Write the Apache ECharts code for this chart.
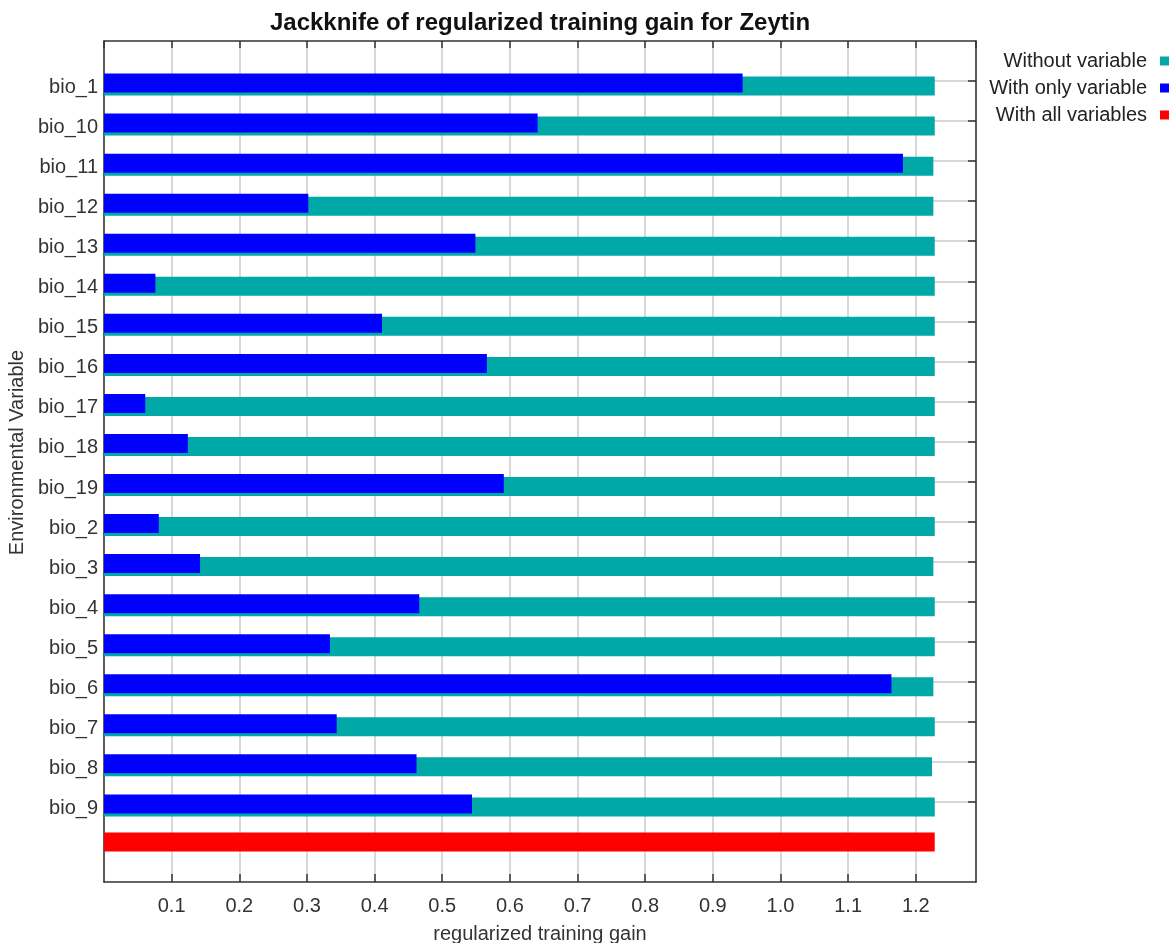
<!DOCTYPE html>
<html>
<head>
<meta charset="utf-8">
<script src="https://cdn.jsdelivr.net/npm/echarts@6/dist/echarts.min.js"></script>
<style>html,body{margin:0;padding:0;background:#fff}#c{width:1173px;height:943px}</style>
</head>
<body>
<div id="c"></div>
<script>
const variables = ['bio_1','bio_10','bio_11','bio_12','bio_13','bio_14','bio_15','bio_16','bio_17','bio_18','bio_19','bio_2','bio_3','bio_4','bio_5','bio_6','bio_7','bio_8','bio_9'];
const withoutVariable = [1.228,1.228,1.226,1.226,1.228,1.228,1.228,1.228,1.228,1.228,1.228,1.228,1.226,1.228,1.228,1.226,1.228,1.224,1.228];
const withOnlyVariable = [0.944,0.641,1.181,0.302,0.549,0.076,0.411,0.566,0.061,0.124,0.591,0.081,0.142,0.466,0.334,1.164,0.344,0.462,0.544];
const withAllVariables = 1.228;
const xTicks = [0.1,0.2,0.3,0.4,0.5,0.6,0.7,0.8,0.9,1.0,1.1,1.2];

const TOP='__top', ALL='__all', BOT='__bottom';
const cats = [TOP].concat(variables, [ALL, BOT]);
const isVar = (v) => variables.indexOf(v) >= 0;
const tealData = [null].concat(withoutVariable, [null, null]);
const blueData = [null].concat(withOnlyVariable, [null, null]);
const redData = cats.map(c => c === ALL ? withAllVariables : null);

const FONT = 'Liberation Sans';
const frame = () => ({show:true, onZero:false, lineStyle:{color:'#333', width:1.5}});
const X_MAX = 1.289;

const chart = echarts.init(document.getElementById('c'), null, {renderer:'canvas'});
chart.setOption({
  backgroundColor:'#fff',
  animation:false,
  title:{text:'Jackknife of regularized training gain for Zeytin', left:540, top:11, textAlign:'center', padding:0,
    textStyle:{fontFamily:FONT, fontSize:24, fontWeight:'bold', color:'#111'}},
  legend:[
    {data:['Without variable'], right:4, top:51},
    {data:['With only variable'], right:4, top:78},
    {data:['With all variables'], right:4, top:105}
  ].map(l => Object.assign(l, {orient:'vertical', align:'right', icon:'rect', itemWidth:9, itemHeight:9, padding:0,
    textStyle:{fontFamily:FONT, fontSize:20, color:'#222', padding:[0,8,0,0]}})),
  grid:[
    {left:104, right:197, top:41, bottom:61, containLabel:false, outerBoundsMode:'none'},
    {left:104, right:197, top:44.5, bottom:57.5, containLabel:false, outerBoundsMode:'none'}
  ],
  xAxis:[
    {gridIndex:0, type:'value', position:'bottom', min:0, max:X_MAX, interval:0.1,
      axisLine:frame(), axisTick:{show:true, inside:true, length:8, lineStyle:{color:'#333', width:1.5}},
      axisLabel:{showMinLabel:false, showMaxLabel:false, margin:14, fontFamily:FONT, fontSize:20, color:'#333',
        formatter:v => xTicks.some(t => Math.abs(t - v) < 1e-6) ? v.toFixed(1) : ''},
      splitLine:{show:true, lineStyle:{color:'#cbcbcb', width:1.5}},
      name:'regularized training gain', nameLocation:'middle', nameGap:42,
      nameTextStyle:{fontFamily:FONT, fontSize:20, color:'#333'}},
    {gridIndex:0, type:'value', position:'top', min:0, max:X_MAX, interval:0.1,
      axisLine:frame(), axisTick:{show:true, inside:true, length:7, lineStyle:{color:'#333', width:1.5}},
      axisLabel:{show:false}, splitLine:{show:false}},
    {gridIndex:1, type:'value', min:0, max:X_MAX, show:false, splitLine:{show:false}}
  ],
  yAxis:[
    {gridIndex:0, type:'category', position:'left', inverse:true, boundaryGap:false, data:cats,
      axisLine:frame(), axisTick:{show:false}, minorTick:{show:false},
      axisLabel:{interval:0, margin:6, verticalAlign:'top', lineHeight:13, fontFamily:FONT, fontSize:20, color:'#333', formatter:v => isVar(v) ? v : ''},
      splitLine:{show:true, interval:(i, v) => isVar(v), lineStyle:{color:'#cbcbcb', width:1.5}},
      name:'Environmental Variable', nameLocation:'middle', nameGap:76, nameRotate:90,
      nameTextStyle:{fontFamily:FONT, fontSize:20, color:'#333', padding:[0,0,0,18]}},
    {gridIndex:0, type:'category', position:'right', inverse:true, boundaryGap:false, data:cats,
      axisLine:frame(), axisTick:{show:true, inside:true, length:8, interval:(i, v) => isVar(v), lineStyle:{color:'#333', width:1.5}},
      axisLabel:{show:false}, splitLine:{show:false}},
    {gridIndex:1, type:'category', inverse:true, boundaryGap:false, data:cats, show:false,
      axisLine:{show:false, onZero:false}, axisTick:{show:false}, axisLabel:{show:false}, splitLine:{show:false}}
  ],
  series:[
    {name:'With only variable', type:'bar', xAxisIndex:2, yAxisIndex:2, data:blueData, barWidth:19, barGap:'-84.2%',
      itemStyle:{color:'#0000ff'}, z:4},
    {name:'Without variable', type:'bar', xAxisIndex:2, yAxisIndex:2, data:tealData, barWidth:19, barGap:'-84.2%',
      itemStyle:{color:'#00a8a8'}, z:3},
    {name:'With all variables', type:'bar', xAxisIndex:0, yAxisIndex:0, data:redData, barWidth:19,
      itemStyle:{color:'#ff0000'}, z:3}
  ]
});
</script>
</body>
</html>
